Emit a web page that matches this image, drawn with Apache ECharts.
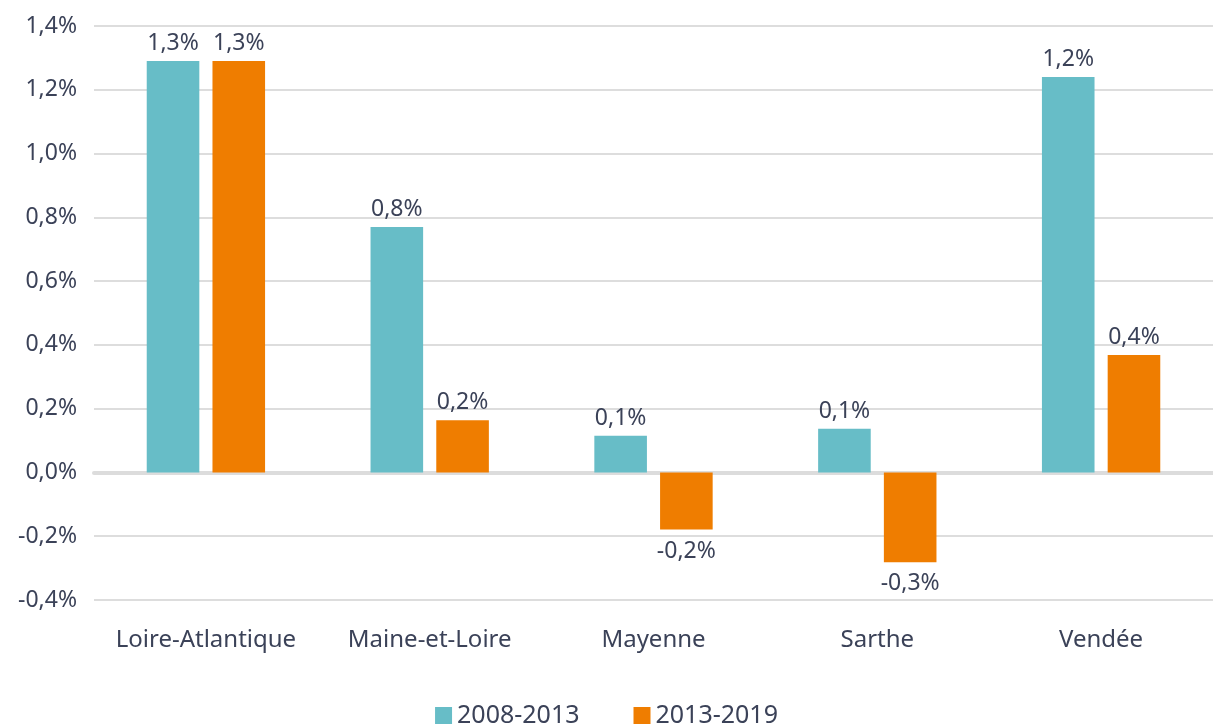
<!DOCTYPE html>
<html>
<head>
<meta charset="utf-8">
<script src="https://cdn.jsdelivr.net/npm/echarts@6/dist/echarts.min.js"></script>
<style>html,body{margin:0;padding:0;background:#fff;}#c{width:1213px;height:724px;}</style>
</head>
<body>
<div id="c"></div>
<script>
const categories = ['Loire-Atlantique', 'Maine-et-Loire', 'Mayenne', 'Sarthe', 'Vendée'];
const seriesNames = ['2008-2013', '2013-2019'];
const values2008_2013 = [1.29, 0.77, 0.115, 0.137, 1.24];
const values2013_2019 = [1.29, 0.164, -0.179, -0.282, 0.368];
const yTicks = { min: -0.4, max: 1.4, interval: 0.2 };
const colors = ['#67BDC7', '#EF7D00'];
const textColor = '#3b4258';
const fontFam = '"Noto Sans", sans-serif';

const fmt = v => v.toFixed(1).replace('.', ',') + '%';
const toData = arr => arr.map(v => ({
  value: v,
  label: { position: v < 0 ? 'bottom' : 'top', distance: v < 0 ? 10 : 6 }
}));

const chart = echarts.init(document.getElementById('c'));
chart.setOption({
  animation: false,
  textStyle: { fontFamily: fontFam },
  grid: { left: 94, right: 0, top: 26, bottom: 124, containLabel: false },
  legend: {
    top: 698,
    left: 'center',
    itemWidth: 17,
    itemHeight: 17,
    itemGap: 54,
    icon: 'rect',
    textStyle: { color: textColor, fontSize: 25, fontFamily: fontFam },
    data: seriesNames
  },
  xAxis: {
    type: 'category',
    data: categories,
    axisTick: { show: false },
    axisLine: { show: true, onZero: true, lineStyle: { color: '#dcdcdc', width: 4 } },
    axisLabel: { color: textColor, fontSize: 24, margin: 28, interval: 0, fontFamily: fontFam }
  },
  yAxis: {
    type: 'value',
    min: yTicks.min,
    max: yTicks.max,
    interval: yTicks.interval,
    axisLine: { show: false },
    axisTick: { show: false },
    splitLine: { lineStyle: { color: '#d2d2d2', width: 1.5 } },
    axisLabel: { color: textColor, fontSize: 23, margin: 17, fontFamily: fontFam, formatter: v => fmt(v) }
  },
  series: [
    {
      name: seriesNames[0], type: 'bar', data: toData(values2008_2013),
      barWidth: '23.5%', barGap: '25%',
      itemStyle: { color: colors[0] },
      label: { show: true, color: textColor, fontSize: 23, fontFamily: fontFam, formatter: p => fmt(p.value) }
    },
    {
      name: seriesNames[1], type: 'bar', data: toData(values2013_2019),
      barWidth: '23.5%', barGap: '25%',
      itemStyle: { color: colors[1] },
      label: { show: true, color: textColor, fontSize: 23, fontFamily: fontFam, formatter: p => fmt(p.value) }
    }
  ]
});
</script>
</body>
</html>
